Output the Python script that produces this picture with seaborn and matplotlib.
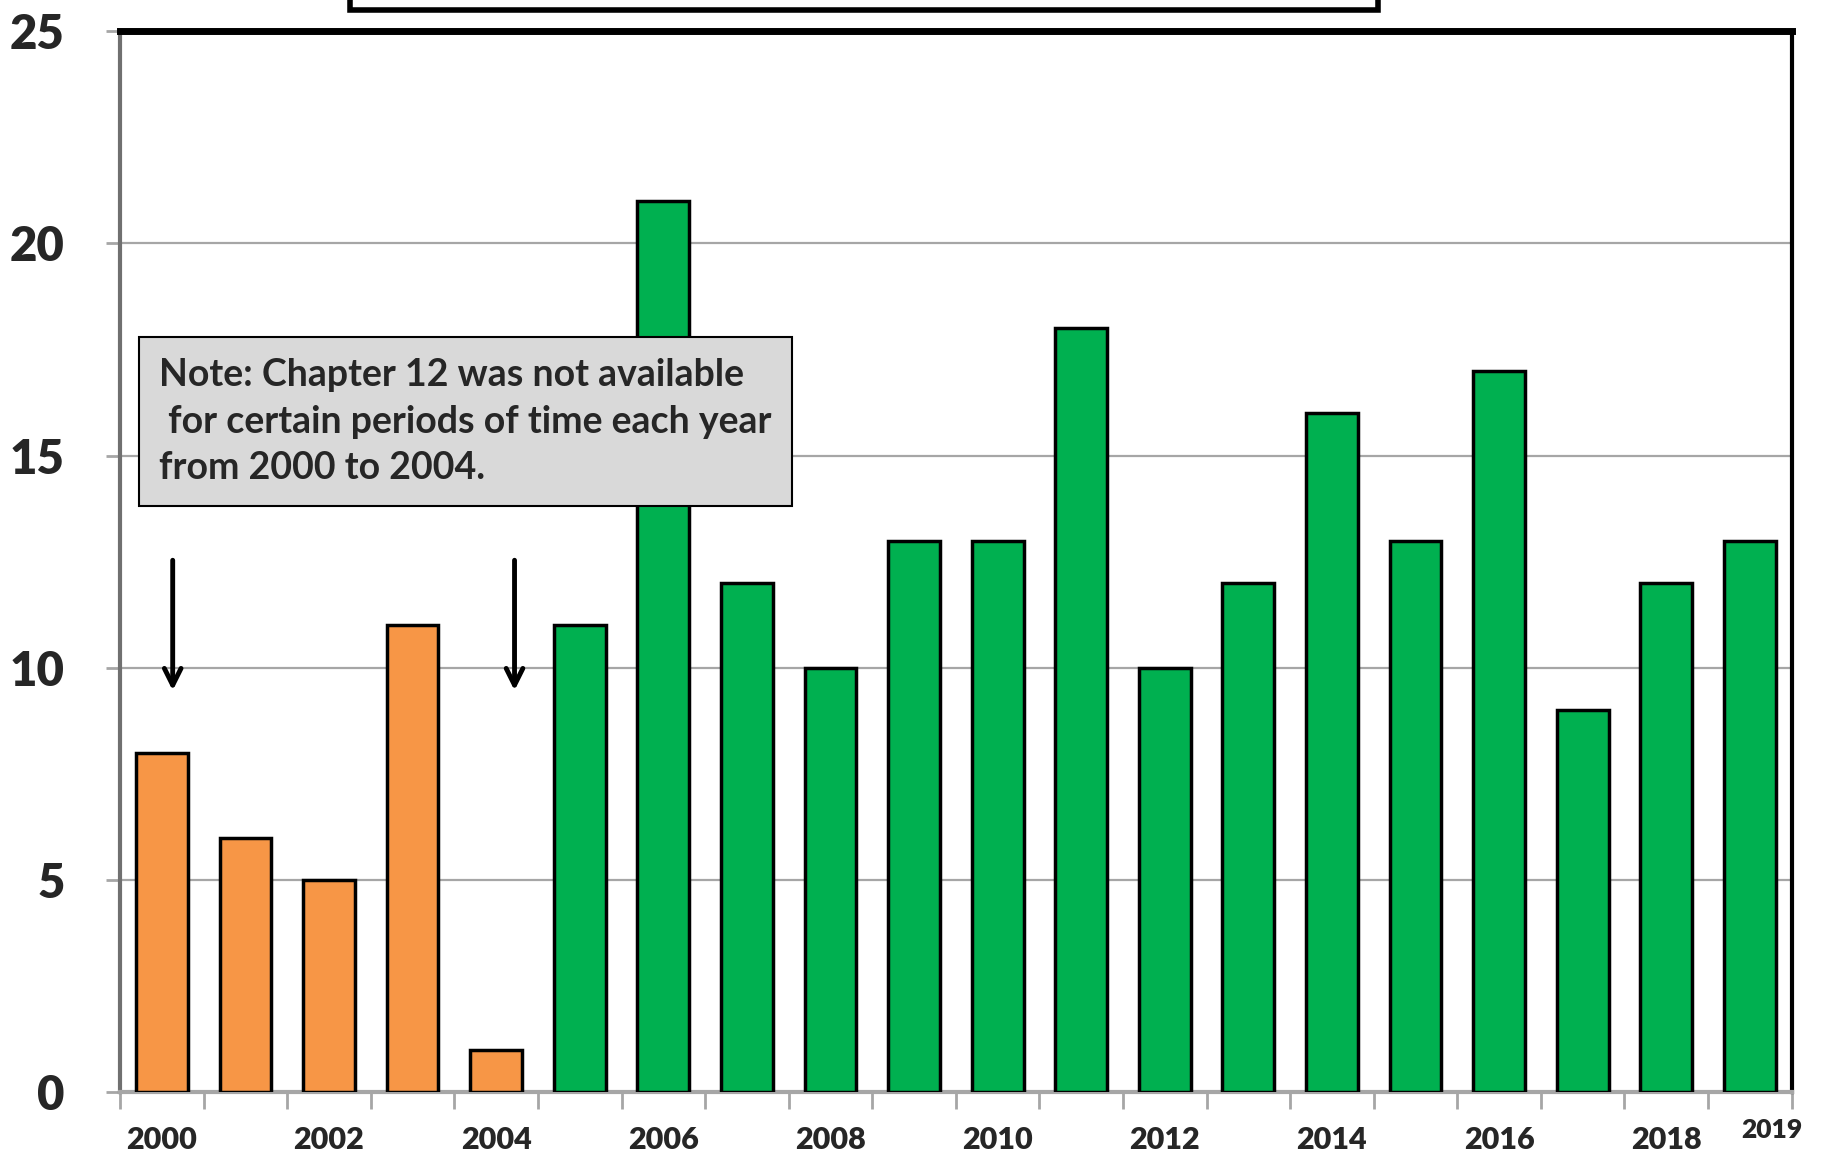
import matplotlib
matplotlib.use('Agg')
import matplotlib.pyplot as plt
from matplotlib.patches import Rectangle
import seaborn as sns
import pandas as pd

years = list(range(2000, 2020))
counts = [8, 6, 5, 11, 1, 11, 21, 12, 10, 13, 13, 18, 10, 12, 16, 13, 17, 9, 12, 13]
period = ['partial'] * 5 + ['full'] * 15
tick_years = ['2000', '', '2002', '', '2004', '', '2006', '', '2008', '', '2010', '',
              '2012', '', '2014', '', '2016', '', '2018', '']
note = "Note: Chapter 12 was not available\n for certain periods of time each year\nfrom 2000 to 2004."

sns.set_style('white')
plt.rcParams['font.family'] = ['Lato', 'DejaVu Sans']

df = pd.DataFrame({'year': [str(y) for y in years], 'count': counts, 'period': period})

fig = plt.figure(figsize=(18.3, 11.57), dpi=100)
ax = fig.add_axes([0.0656, 0.056, 0.9134, 0.917])

sns.barplot(data=df, x='year', y='count', hue='period', dodge=False,
            palette={'partial': '#F79646', 'full': '#00B050'}, saturation=1,
            width=0.62, edgecolor='black', linewidth=2.5, legend=False, ax=ax, zorder=3)

ax.set_xlim(-0.5, 19.5)
ax.set_ylim(0, 25)
ax.set_yticks([0, 5, 10, 15, 20, 25])
ax.set_yticklabels(['0', '5', '10', '15', '20', '25'], fontsize=34, fontweight='heavy')
ax.yaxis.grid(True, color='#A6A6A6', linewidth=1.6, zorder=0)
ax.set_axisbelow(True)
ax.tick_params(axis='y', length=10, width=2, color='#A6A6A6', pad=30, left=True)

# boundaries as major ticks, labels on minor ticks at bar centres
ax.set_xticks([i - 0.5 for i in range(21)])
ax.set_xticklabels([])
ax.tick_params(axis='x', which='major', length=12, width=2, color='#A6A6A6', bottom=True)
ax.set_xticks(list(range(20)), minor=True)
ax.set_xticklabels(tick_years, minor=True, fontsize=22, fontweight='heavy')
ax.tick_params(axis='x', which='minor', length=0, pad=24)
ax.text(19.27, -0.024, '2019', transform=ax.get_xaxis_transform(), ha='center',
        va='top', fontsize=19, fontweight='heavy')

ax.set_xlabel('')
ax.set_ylabel('')

ax.spines['left'].set_color('#707070')
ax.spines['left'].set_linewidth(3)
ax.spines['bottom'].set_color('#A6A6A6')
ax.spines['bottom'].set_linewidth(3)
ax.spines['top'].set_color('black')
ax.spines['top'].set_linewidth(5)
ax.spines['right'].set_color('black')
ax.spines['right'].set_linewidth(3)

ax.text(-0.03, 15.8, note, fontsize=27, fontweight='bold', va='center', ha='left',
        linespacing=1.45, zorder=5,
        bbox=dict(boxstyle='square,pad=0.55', facecolor='#D9D9D9', edgecolor='black', linewidth=1.5))

for x in [0.13, 4.22]:
    ax.annotate('', xy=(x, 9.4), xytext=(x, 12.6),
                arrowprops=dict(arrowstyle='->', color='black', lw=3.5, mutation_scale=30))

# the title box, cut off by the top edge
fig.patches.append(Rectangle((0.191, 0.991), 0.562, 0.1, transform=fig.transFigure,
                             facecolor='white', edgecolor='black', linewidth=4))

fig.savefig('out.png', dpi=100)
